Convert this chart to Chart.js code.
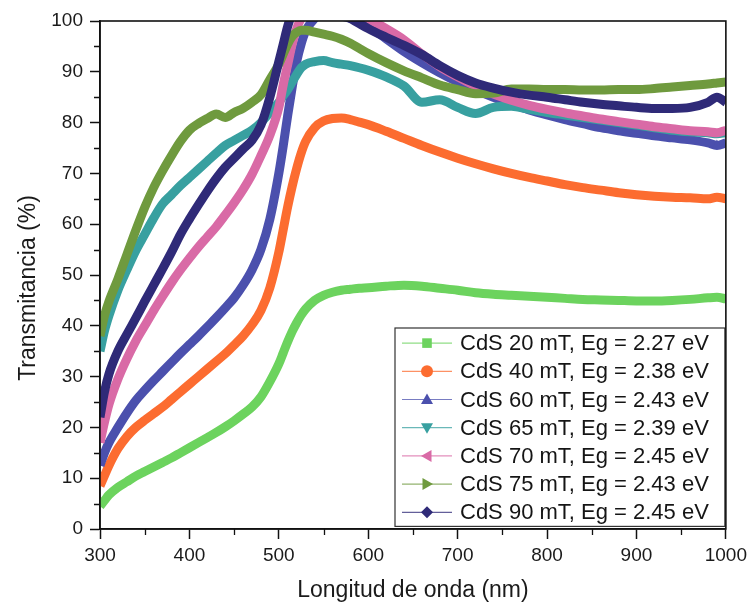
<!DOCTYPE html>
<html lang="es">
<head>
    <meta charset="UTF-8">
    <title>Transmitancia CdS</title>
    <script src="https://cdn.jsdelivr.net/npm/chart.js@4.4.1/dist/chart.umd.min.js"></script>
    <style>
        body {
            margin: 0;
            padding: 0;
            background: #ffffff;
        }
        #chartBox {
            position: relative;
            width: 752px;
            height: 604px;
        }
    </style>
</head>
<body>
    <div id="chartBox">
        <canvas id="transChart" width="752" height="604"></canvas>
    </div>

    <script>
        // Wavelength grid (nm) shared by all series
        const wavelength = [300, 305, 310, 320, 330, 340, 350, 360, 370, 380, 390, 400, 410, 420, 430, 440, 450, 460, 470, 480,
            490, 500, 505, 510, 515, 520, 525, 530, 540, 550, 560, 570, 580, 590, 600, 620, 640, 660, 680, 700,
            720, 740, 760, 780, 800, 820, 840, 860, 880, 900, 920, 940, 960, 980, 990, 1000];

        // Transmittance (%)
        const t20 = [4.5, 5.6, 6.7, 8.2, 9.3, 10.4, 11.3, 12.2, 13.1, 14.0, 15.0, 16.0, 17.0, 18.0, 19.0, 20.1, 21.3, 22.6, 24.0, 26.0,
            29.0, 32.5, 34.7, 36.9, 38.9, 40.6, 42.1, 43.3, 45.0, 46.0, 46.6, 47.0, 47.2, 47.4, 47.5, 47.8, 48.0, 47.8, 47.4, 47.0,
            46.5, 46.2, 46.0, 45.8, 45.6, 45.4, 45.2, 45.1, 45.0, 44.9, 44.9, 45.0, 45.2, 45.5, 45.6, 45.3];
        const t40 = [8.5, 10.5, 12.5, 15.8, 18.2, 20.0, 21.4, 22.7, 24.0, 25.5, 27.0, 28.5, 30.0, 31.5, 33.0, 34.5, 36.2, 38.0, 40.2, 43.0,
            47.5, 54.5, 59.0, 63.5, 67.5, 71.0, 74.0, 76.3, 79.0, 80.3, 80.8, 80.9, 80.6, 80.1, 79.6, 78.3, 76.9, 75.5, 74.2, 73.0,
            71.9, 70.9, 70.0, 69.2, 68.5, 67.8, 67.2, 66.7, 66.2, 65.8, 65.5, 65.3, 65.2, 65.0, 65.3, 65.0];
        const t60 = [12.5, 15.0, 17.0, 20.0, 22.8, 25.3, 27.3, 29.2, 31.0, 32.8, 34.6, 36.3, 38.0, 39.8, 41.6, 43.5, 45.5, 48.0, 51.0, 55.0,
            61.0, 70.0, 75.5, 81.5, 87.0, 92.0, 95.5, 98.0, 100.5, 101.5, 101.5, 101.0, 100.5, 100.0, 99.0, 96.5, 94.0, 91.8, 89.8, 88.0,
            86.4, 85.0, 83.7, 82.5, 81.5, 80.6, 79.8, 79.0, 78.4, 77.9, 77.4, 77.0, 76.6, 76.0, 75.5, 76.0];
        const t65 = [35.0, 39.0, 42.0, 47.0, 51.0, 54.8, 58.0, 61.2, 64.0, 65.8, 67.6, 69.2, 70.8, 72.4, 74.0, 75.5, 76.5, 77.5, 78.5, 80.0,
            82.0, 84.0, 85.3, 86.5, 88.0, 89.5, 90.8, 91.5, 92.0, 92.2, 91.8, 91.5, 91.2, 90.8, 90.3, 89.0, 87.2, 84.0, 84.5, 83.0,
            81.8, 83.0, 83.2, 82.6, 82.0, 81.5, 81.0, 80.5, 80.0, 79.5, 79.0, 78.5, 78.2, 78.0, 77.8, 78.0];
        const t70 = [17.0, 21.0, 24.5, 29.5, 33.5, 37.0, 40.0, 43.0, 45.8, 48.5, 51.0, 53.3, 55.5, 57.5, 59.5, 61.8, 64.2, 66.8, 69.8, 73.5,
            77.5, 83.0, 87.5, 91.5, 95.5, 98.5, 100.5, 101.5, 102.0, 102.3, 102.5, 102.5, 102.0, 101.5, 100.5, 98.5, 96.3, 93.5, 91.0, 89.0,
            87.2, 85.6, 84.4, 83.4, 82.6, 81.9, 81.3, 80.7, 80.2, 79.7, 79.2, 78.8, 78.4, 78.2, 78.0, 78.5];
        const t75 = [38.0, 42.0, 44.8, 49.2, 54.0, 58.8, 63.3, 67.2, 70.5, 73.5, 76.3, 78.5, 79.8, 80.8, 81.7, 81.0, 82.0, 82.8, 84.0, 85.5,
            88.5, 91.5, 93.5, 95.5, 97.0, 97.8, 98.2, 98.2, 97.8, 97.4, 97.0, 96.4, 95.6, 94.6, 93.6, 91.8, 90.2, 88.8, 87.4, 86.5,
            85.7, 85.8, 86.6, 86.6, 86.5, 86.5, 86.4, 86.4, 86.5, 86.5, 86.7, 87.0, 87.3, 87.6, 87.8, 88.0];
        const t90 = [22.0, 27.0, 30.5, 35.0, 38.3, 41.5, 44.8, 48.0, 51.2, 54.5, 58.0, 61.0, 63.8, 66.5, 69.0, 71.2, 73.0, 74.8, 76.5, 79.5,
            85.0, 92.0, 95.5, 99.0, 101.5, 103.0, 103.0, 103.0, 103.0, 102.5, 102.0, 101.5, 100.5, 99.5, 98.5, 96.8, 95.2, 93.4, 91.2, 89.3,
            87.8, 86.8, 86.0, 85.4, 85.0, 84.5, 84.0, 83.6, 83.3, 83.0, 82.8, 82.8, 83.0, 84.0, 85.0, 84.0];

        const seriesLabels = ['CdS 20 mT, Eg = 2.27 eV', 'CdS 40 mT, Eg = 2.38 eV', 'CdS 60 mT, Eg = 2.43 eV',
            'CdS 65 mT, Eg = 2.39 eV', 'CdS 70 mT, Eg = 2.45 eV', 'CdS 75 mT, Eg = 2.43 eV', 'CdS 90 mT, Eg = 2.45 eV'];
        const seriesValues = [t20, t40, t60, t65, t70, t75, t90];
        const seriesColors = ['#6cd35e', '#fc6c30', '#4b50ad', '#38a0a0', '#d96aa6', '#6f9a3e', '#2f2a78'];
        const seriesMarkers = ['rect', 'circle', 'triangle', 'triangleDown', 'triangleLeft', 'triangleRight', 'rectRot'];

        const xTicks = [300, 400, 500, 600, 700, 800, 900, 1000];
        const yTicks = [0, 10, 20, 30, 40, 50, 60, 70, 80, 90, 100];
        const xMinorTicks = [350, 450, 550, 650, 750, 850, 950];
        const yMinorTicks = [5, 15, 25, 35, 45, 55, 65, 75, 85, 95];
        const xTitle = 'Longitud de onda (nm)';
        const yTitle = 'Transmitancia (%)';

        const FONT = '"Liberation Sans", Arial, sans-serif';

        function drawMarker(ctx, style, cx, cy, r) {
            ctx.beginPath();
            if (style === 'rect') {
                ctx.rect(cx - r * 0.8, cy - r * 0.8, r * 1.6, r * 1.6);
            } else if (style === 'circle') {
                ctx.arc(cx, cy, r, 0, Math.PI * 2);
            } else if (style === 'triangle') {
                ctx.moveTo(cx, cy - r); ctx.lineTo(cx + r, cy + r * 0.75); ctx.lineTo(cx - r, cy + r * 0.75);
            } else if (style === 'triangleDown') {
                ctx.moveTo(cx, cy + r); ctx.lineTo(cx + r, cy - r * 0.75); ctx.lineTo(cx - r, cy - r * 0.75);
            } else if (style === 'triangleLeft') {
                ctx.moveTo(cx - r, cy); ctx.lineTo(cx + r * 0.75, cy - r); ctx.lineTo(cx + r * 0.75, cy + r);
            } else if (style === 'triangleRight') {
                ctx.moveTo(cx + r, cy); ctx.lineTo(cx - r * 0.75, cy - r); ctx.lineTo(cx - r * 0.75, cy + r);
            } else {
                ctx.moveTo(cx, cy - r); ctx.lineTo(cx + r, cy); ctx.lineTo(cx, cy + r); ctx.lineTo(cx - r, cy);
            }
            ctx.closePath();
            ctx.fill();
        }

        // Legend box inside the plot, lower right
        const boxLegend = {
            id: 'boxLegend',
            afterDatasetsDraw(chart) {
                const {ctx, chartArea: a} = chart;
                const left = 395, top = 328, right = a.right - 1, rowH = 28.2;
                const bottom = top + rowH * seriesLabels.length + 1;
                ctx.save();
                ctx.fillStyle = '#ffffff';
                ctx.fillRect(left, top, right - left, bottom - top);
                ctx.strokeStyle = '#333';
                ctx.lineWidth = 1.2;
                ctx.strokeRect(left, top, right - left, bottom - top);
                ctx.font = '22px ' + FONT;
                ctx.textBaseline = 'middle';
                seriesLabels.forEach((label, i) => {
                    const cy = top + rowH * (i + 0.5) + 1;
                    ctx.strokeStyle = seriesColors[i];
                    ctx.globalAlpha = 0.75;
                    ctx.lineWidth = 1.2;
                    ctx.beginPath();
                    ctx.moveTo(402, cy);
                    ctx.lineTo(452, cy);
                    ctx.stroke();
                    ctx.globalAlpha = 1;
                    ctx.fillStyle = seriesColors[i];
                    drawMarker(ctx, seriesMarkers[i], 427, cy, 6);
                    ctx.fillStyle = '#151515';
                    ctx.fillText(label, 460, cy + 1);
                });
                ctx.restore();
            }
        };

        // Frame, minor ticks and axis titles
        const frameAndTitles = {
            id: 'frameAndTitles',
            afterDraw(chart) {
                const {ctx, chartArea: a, scales: {x, y}} = chart;
                ctx.save();
                ctx.strokeStyle = '#111';
                ctx.lineWidth = 1.6;
                ctx.strokeRect(a.left, a.top, a.right - a.left, a.bottom - a.top);
                ctx.lineWidth = 1.3;
                ctx.beginPath();
                xMinorTicks.forEach(v => {
                    const px = Math.round(x.getPixelForValue(v)) + 0.5;
                    ctx.moveTo(px, a.bottom);
                    ctx.lineTo(px, a.bottom + 6);
                });
                yMinorTicks.forEach(v => {
                    const py = Math.round(y.getPixelForValue(v)) + 0.5;
                    ctx.moveTo(a.left, py);
                    ctx.lineTo(a.left - 6, py);
                });
                ctx.stroke();

                ctx.fillStyle = '#1a1a1a';
                ctx.font = '23px ' + FONT;
                ctx.textAlign = 'center';
                ctx.textBaseline = 'middle';
                ctx.fillText(xTitle, (a.left + a.right) / 2, 591);
                ctx.translate(29, 288);
                ctx.rotate(-Math.PI / 2);
                ctx.fillText(yTitle, 0, 0);
                ctx.restore();
            }
        };

        const datasets = seriesLabels.map((label, i) => ({
            label: label,
            data: wavelength.map((w, k) => ({x: w, y: seriesValues[i][k]})),
            borderColor: seriesColors[i],
            backgroundColor: seriesColors[i],
            borderWidth: 9,
            borderJoinStyle: 'round',
            pointStyle: i === 2 ? 'triangle' : 'circle',
            pointRadius: ctx => (i === 2 && ctx.dataIndex === wavelength.indexOf(990)) ? 6 : 0,
            pointBorderWidth: 0,
            tension: 0.4,
            cubicInterpolationMode: 'monotone',
            order: seriesLabels.length - i,
            fill: false
        }));

        new Chart(document.getElementById('transChart').getContext('2d'), {
            type: 'line',
            data: { datasets: datasets },
            options: {
                responsive: false,
                animation: false,
                layout: { padding: { top: 21, right: 24, left: 0, bottom: 0 } },
                plugins: {
                    legend: { display: false },
                    tooltip: { enabled: false }
                },
                scales: {
                    x: {
                        type: 'linear',
                        min: 300,
                        max: 1000,
                        afterFit: s => { s.height = 75; },
                        afterBuildTicks: s => { s.ticks = xTicks.map(v => ({value: v})); },
                        ticks: {
                            color: '#1a1a1a',
                            font: { family: FONT, size: 19 },
                            padding: 5,
                            maxRotation: 0,
                            callback: v => String(v)
                        },
                        grid: {
                            drawOnChartArea: false,
                            drawTicks: true,
                            tickLength: 10,
                            tickColor: '#111',
                            tickWidth: 1.5
                        },
                        border: { display: true, color: '#111', width: 1.6 }
                    },
                    y: {
                        min: 0,
                        max: 100,
                        afterFit: s => { s.width = 100; },
                        afterBuildTicks: s => { s.ticks = yTicks.map(v => ({value: v})); },
                        ticks: {
                            color: '#1a1a1a',
                            font: { family: FONT, size: 19 },
                            padding: 7,
                            callback: v => String(v)
                        },
                        grid: {
                            drawOnChartArea: false,
                            drawTicks: true,
                            tickLength: 10,
                            tickColor: '#111',
                            tickWidth: 1.5
                        },
                        border: { display: true, color: '#111', width: 1.6 }
                    }
                }
            },
            plugins: [boxLegend, frameAndTitles]
        });
    </script>
</body>
</html>
